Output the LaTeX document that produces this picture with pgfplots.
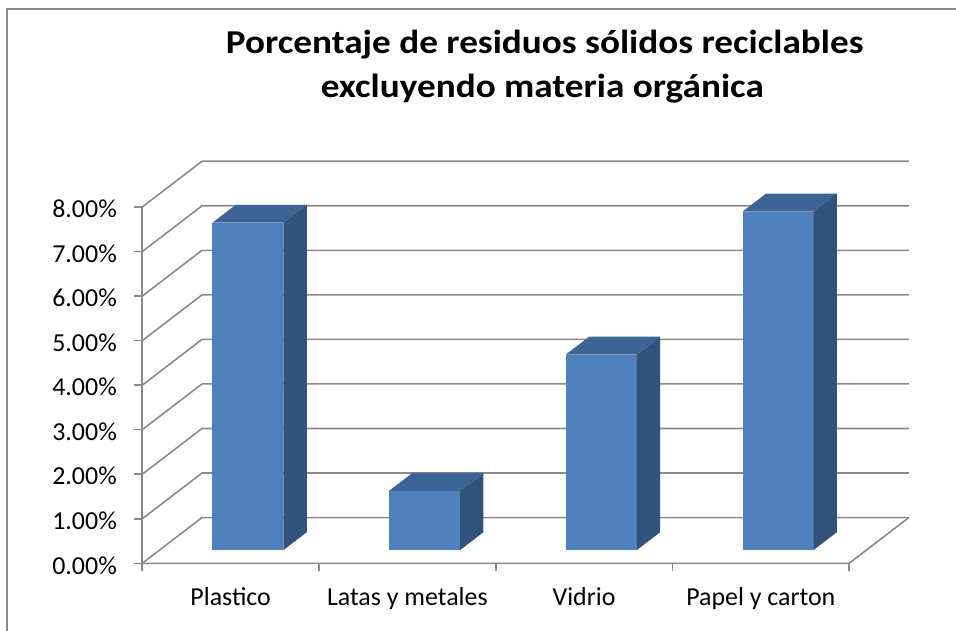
\documentclass[border=0pt]{standalone}
\usepackage{fontspec}
\setmainfont{Carlito}
\usepackage{pgfplots}
\usepackage{pgfplotstable}
\pgfplotsset{compat=1.18}

\definecolor{barfront}{HTML}{4F81BD}
\definecolor{bartop}{HTML}{3E6495}
\definecolor{barside}{HTML}{32547C}
\definecolor{gridgray}{HTML}{8A8A8A}
\definecolor{framegray}{HTML}{8C8C8C}

% share of recyclable solid waste (percent)
\pgfplotstableread{
idx share
0 7.35
1 1.33
2 4.39
3 7.60
}\residuos

% oblique depth of the floor (axis units), bar depth span and half width
\def\dpx{0.338}
\def\dpy{1.027}
\def\dfront{0.29}
\def\dback{0.68}
\def\hw{0.201}

% one 3-D column: front, top and right faces
\newcommand\drawbar[2]{%
  \pgfmathsetmacro\xa{#1+0.5-\hw+\dpx*\dfront}%
  \pgfmathsetmacro\xb{#1+0.5+\hw+\dpx*\dfront}%
  \pgfmathsetmacro\xc{\xa+\dpx*(\dback-\dfront)}%
  \pgfmathsetmacro\xd{\xb+\dpx*(\dback-\dfront)}%
  \pgfmathsetmacro\ya{\dpy*\dfront}%
  \pgfmathsetmacro\yb{#2+\dpy*\dfront}%
  \pgfmathsetmacro\yc{\ya+\dpy*(\dback-\dfront)}%
  \pgfmathsetmacro\yd{\yb+\dpy*(\dback-\dfront)}%
  \addplot[fill=barfront, draw=none] coordinates {(\xa,\ya) (\xb,\ya) (\xb,\yb) (\xa,\yb)} -- cycle;
  \addplot[fill=bartop, draw=none] coordinates {(\xa,\yb) (\xb,\yb) (\xd,\yd) (\xc,\yd)} -- cycle;
  \addplot[fill=barside, draw=none] coordinates {(\xb,\ya) (\xd,\yc) (\xd,\yd) (\xb,\yb)} -- cycle;
}

\begin{document}
\begin{tikzpicture}
\begin{axis}[
  x=176.7bp, y=44.54bp,
  xmin=0, xmax=4.338, ymin=0, ymax=9.027,
  axis x line*=bottom, axis y line*=left,
  axis line style={draw=none},
  clip=false,
  tick align=outside,
  major tick length=8bp,
  tick style={gridgray, line width=1.6bp},
  ytick={0,...,8},
  yticklabel={\pgfmathprintnumber[fixed,fixed zerofill,precision=2]{\tick}\%},
  /pgf/number format/assume math mode=true,
  yticklabel style={xshift=-14bp, yshift=-2bp},
  xtick={0,...,4}, xticklabels={},
  extra x ticks={0.5,1.5,2.5,3.5},
  extra x tick labels={Plastico, Latas y metales, Vidrio, Papel y carton},
  extra x tick style={major tick length=0pt, xticklabel style={yshift=-21bp}},
  ticklabel style={font=\fontsize{26}{30}\selectfont},
  gridline/.style={gridgray, line width=1.6bp},
]
% back wall and side wall gridlines
\pgfplotsinvokeforeach{0,...,8}{%
  \pgfmathsetmacro\gy{#1+\dpy}%
  \pgfmathsetmacro\gx{4+\dpx}%
  \addplot[gridline] coordinates {(0,#1) (\dpx,\gy) (\gx,\gy)};
}
% front vertical axis and floor edges
\addplot[gridline] coordinates {(0,0) (0,8)};
\addplot[gridline] coordinates {(0,0) (4,0) (4.338,1.027)};
% columns
\pgfplotsinvokeforeach{0,...,3}{%
  \pgfplotstablegetelem{#1}{share}\of\residuos
  \let\val\pgfplotsretval
  \drawbar{#1}{\val}
}
\coordinate (O) at (axis cs:0,0);
\end{axis}
\node[anchor=base, xscale=1.115, font=\fontsize{33.5}{40}\selectfont\bfseries] at ([shift={(402.5bp,510bp)}]O) {Porcentaje de residuos sólidos reciclables};
\node[anchor=base, xscale=1.115, font=\fontsize{33.5}{40}\selectfont\bfseries] at ([shift={(400bp,466bp)}]O) {excluyendo materia orgánica};
\draw[framegray, line width=1.3bp] ([shift={(-135.3bp,-67.7bp)}]O) -- ([shift={(-135.3bp,554.3bp)}]O) -- ([shift={(813.7bp,554.3bp)}]O);
\pgfresetboundingbox
\path[use as bounding box] ([shift={(-142.3bp,-67.7bp)}]O) rectangle ++(956bp,631bp);
\end{tikzpicture}
\end{document}
